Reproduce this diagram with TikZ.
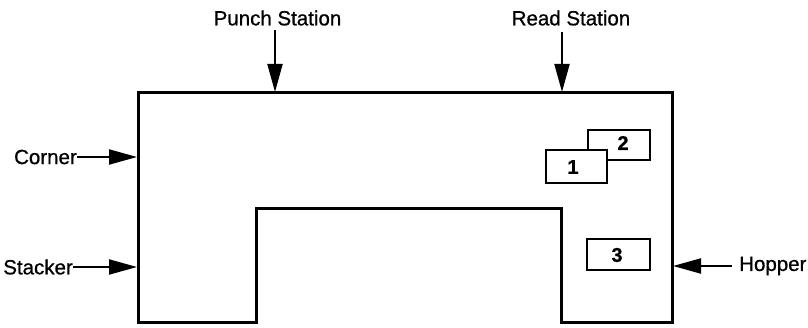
\documentclass[tikz,border=0pt]{standalone}
\usepackage{fontspec}
\setmainfont{Liberation Sans}
\newfontfamily\medfont{Liberation Sans}[FakeBold=0.8]
\usetikzlibrary{arrows.meta}
\begin{document}
\begin{tikzpicture}[x=1pt,y=-1pt,
  lbl/.style={font=\medfont\fontsize{20.5}{23}\selectfont, inner sep=0pt},
  pin/.style={line width=2pt, -{Triangle[length=28pt,width=15pt]}},
  num/.style={font=\medfont\fontsize{20}{22}\selectfont\bfseries},
  card/.style={draw, line width=2pt, fill=white, inner sep=0pt},
  body/.style={line width=3pt, line join=miter}]
\useasboundingbox (0,0) rectangle (808,328);
% outer shape
\coordinate (tl) at (138,93);
\coordinate (tr) at (672,93);
\coordinate (br) at (672,323);
\coordinate (nr) at (561,323);
\coordinate (nrt) at (561,209);
\coordinate (nlt) at (256,209);
\coordinate (nl) at (256,323);
\coordinate (bl) at (138,323);
\draw[body] (tl) -- (tr) -- (br) -- (nr) -- (nrt) -- (nlt) -- (nl) -- (bl) -- cycle;
% arrow targets
\coordinate (punchT) at (275,92);
\coordinate (readT) at (562,92);
\coordinate (cornerT) at (137,157);
\coordinate (stackT) at (137,267);
\coordinate (hopT) at (673,266);
% labels
\node[lbl] (punch) at (277.5,18) {Punch Station};
\node[lbl] (read) at (571,18) {Read Station};
\node[lbl, anchor=east] (corner) at (77,157) {Corner};
\node[lbl, anchor=east] (stack) at (73,267) {Stacker};
\node[lbl, anchor=west] (hop) at (739,266) {Hopper};
\coordinate (pS) at (275,30);
\coordinate (rS) at (562,32);
\coordinate (hS) at (732,266);
\draw[pin] (pS) -- (punchT);
\draw[pin] (rS) -- (readT);
\draw[pin] (corner.east) -- (cornerT);
\draw[pin] (stack.east) -- (stackT);
\draw[pin] (hS) -- (hopT);
% cards
\node[card, minimum width=62pt, minimum height=30pt] (c2) at (619,145) {};
\node[num] (n2) at (623,143) {2};
\node[card, minimum width=61pt, minimum height=33pt] (c1) at (576.5,166.5) {};
\node[num] (n1) at (573,167) {1};
\node[card, minimum width=63pt, minimum height=31pt] (c3) at (618.5,254.5) {};
\node[num] (n3) at (617,255) {3};
\end{tikzpicture}
\end{document}
